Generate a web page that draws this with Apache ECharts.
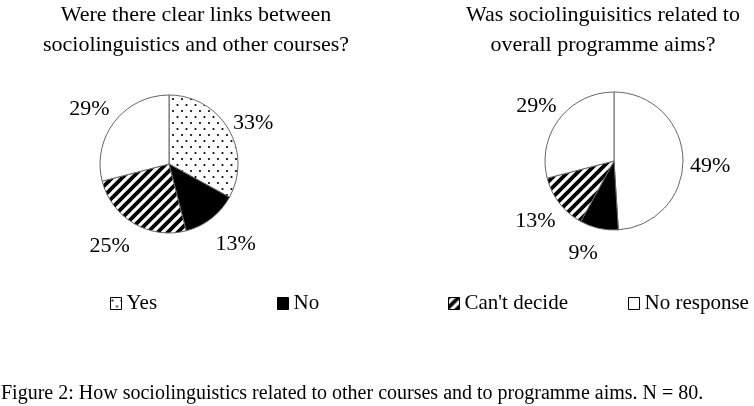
<!DOCTYPE html>
<html>
<head>
<meta charset="utf-8">
<script src="https://cdn.jsdelivr.net/npm/echarts@6/dist/echarts.min.js"></script>
<style>
  html, body { margin: 0; padding: 0; background: #fff; }
  #main { width: 754px; height: 406px; }
</style>
</head>
<body>
<div id="main"></div>
<script>
var categories = ['Yes', 'No', "Can't decide", 'No response'];
var linksValues = [33, 13, 25, 29];
var aimsValues = [49, 9, 13, 29];

var serif = '"Liberation Serif", "DejaVu Serif", serif';

// small nudges for the percent labels, per slice
var linksLabelShift = [[-13, -1], [-11, 18], [10, 14], [12, -6]];
var aimsLabelShift = [[-12, 8], [10, 15], [13, 12], [14, -6]];

// fill patterns, drawn on small canvases
function makePattern(kind) {
  var c = document.createElement('canvas');
  if (kind === 'dots') {
    c.width = 9; c.height = 12;
  } else {
    c.width = 10; c.height = 10;
  }
  var ctx = c.getContext('2d');
  ctx.fillStyle = '#fff';
  ctx.fillRect(0, 0, c.width, c.height);
  if (kind === 'dots') {
    ctx.fillStyle = '#000';
    ctx.beginPath(); ctx.arc(2, 3, 1.1, 0, Math.PI * 2); ctx.fill();
    ctx.beginPath(); ctx.arc(6.5, 9, 1.1, 0, Math.PI * 2); ctx.fill();
  } else {
    ctx.strokeStyle = '#000';
    ctx.lineWidth = 3.8;
    ctx.beginPath();
    ctx.moveTo(-5, 5); ctx.lineTo(5, -5);
    ctx.moveTo(0, 10); ctx.lineTo(10, 0);
    ctx.moveTo(5, 15); ctx.lineTo(15, 5);
    ctx.stroke();
  }
  return { image: c, repeat: 'repeat' };
}

var dots = makePattern('dots');
var hatch = makePattern('hatch');
var leftFills = [dots, '#000', hatch, '#fff'];
var rightFills = ['#fff', '#000', hatch, '#fff'];

function pieData(values, fills) {
  return categories.map(function (name, i) {
    return { name: name, value: values[i], itemStyle: { color: fills[i] } };
  });
}

function pieSeries(name, center, values, fills, shifts) {
  return {
    name: name,
    type: 'pie',
    center: center,
    radius: 69,
    startAngle: 90,
    clockwise: true,
    animation: false,
    silent: true,
    itemStyle: { borderColor: '#666', borderWidth: 1 },
    label: {
      show: true,
      position: 'outside',
      formatter: '{c}%',
      color: '#000',
      fontFamily: serif,
      fontSize: 22
    },
    labelLine: { show: false, length: 10, length2: 4 },
    labelLayout: function (params) {
      var s = shifts[params.dataIndex];
      return { dx: s[0], dy: s[1] };
    },
    data: pieData(values, fills)
  };
}

function legendAt(name, x) {
  return {
    data: [name],
    left: x,
    top: 293,
    padding: 0,
    icon: 'rect',
    itemWidth: 11,
    itemHeight: 12,
    selectedMode: false,
    itemStyle: { borderColor: '#000', borderWidth: 1 },
    textStyle: { color: '#000', fontFamily: serif, fontSize: 21 }
  };
}

var titleText = { color: '#000', fontFamily: serif, fontSize: 22, fontWeight: 'normal', lineHeight: 30 };

var myChart = echarts.init(document.getElementById('main'));
myChart.setOption({
  backgroundColor: '#fff',
  title: [
    {
      text: 'Were there clear links between\nsociolinguistics and other courses?',
      left: 191, top: -5, textAlign: 'center',
      textStyle: titleText
    },
    {
      text: 'Was sociolinguisitics related to\noverall programme aims?',
      left: 598, top: -5, textAlign: 'center',
      textStyle: titleText
    },
    {
      text: 'Figure 2: How sociolinguistics related to other courses and to programme aims. N = 80.',
      left: 1, top: 384, padding: 0,
      textStyle: { color: '#000', fontFamily: serif, fontSize: 20, fontWeight: 'normal' }
    }
  ],
  legend: [
    legendAt('Yes', 110),
    legendAt('No', 277),
    legendAt("Can't decide", 448),
    legendAt('No response', 628)
  ],
  series: [
    pieSeries('links', [169, 164], linksValues, leftFills, linksLabelShift),
    pieSeries('aims', [614, 161], aimsValues, rightFills, aimsLabelShift)
  ]
});
</script>
</body>
</html>
